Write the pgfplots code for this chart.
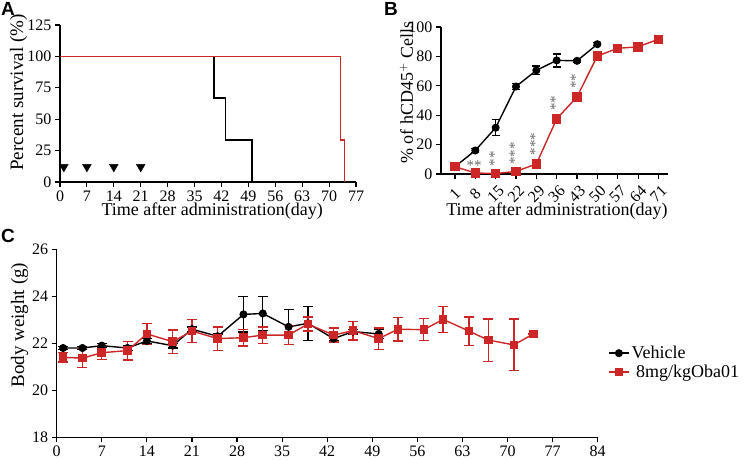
\documentclass[border=0pt]{standalone}
\usepackage{fontspec}
\setmainfont{Liberation Serif}
\newfontfamily\panelfont{Liberation Sans}
\usepackage{pgfplots}
\pgfplotsset{compat=1.18}
\definecolor{mred}{RGB}{205,38,38}
\definecolor{astgray}{RGB}{105,105,105}

\pgfplotsset{
  panel/.style={
    scale only axis,
    axis lines=left,
    axis line style={-, line width=1.1pt},
    tick style={line width=1.1pt, black},
    tick align=outside,
    major tick length=5pt,
    tick label style={font=\fontsize{16}{16}\selectfont},
    xlabel style={font=\fontsize{18}{18}\selectfont, anchor=center},
    ylabel style={font=\fontsize{19}{19}\selectfont, anchor=center},
    /pgf/number format/assume math mode=true,
    clip=false,
  },
  blk/.style={black, line width=1.4pt, mark=*, mark size=3.3pt},
  rds/.style={mred, line width=1.4pt, mark=square*, mark size=3.6pt},
}

\begin{document}
\begin{tikzpicture}
\path[use as bounding box] (0pt,0pt) rectangle (744pt,-460pt);

\node[anchor=north west, inner sep=0pt, font=\panelfont\bfseries\fontsize{19}{19}\selectfont] at (1pt,-2pt) {A};
\node[anchor=north west, inner sep=0pt, font=\panelfont\bfseries\fontsize{19}{19}\selectfont] at (384pt,-2pt) {B};
\node[anchor=north west, inner sep=0pt, font=\panelfont\bfseries\fontsize{19}{19}\selectfont] at (1pt,-229pt) {C};

% A: survival
\begin{axis}[panel, at={(60pt,-182pt)}, anchor=south west,
  width=296pt, height=157pt,
  xmin=0, xmax=77, ymin=0, ymax=125,
  xtick={0,7,...,77}, ytick={0,25,...,125},
  xlabel={Time after administration(day)},
  ylabel={Percent survival (\%)},
  xlabel style={at={(axis description cs:0.514,-0.185)}},
  ylabel style={at={(axis description cs:-0.140,0.57)}},
]
\addplot[black, line width=1.6pt, const plot] coordinates {(0,100)(40,66.7)(43,33.3)(50,0)};
\addplot[mred, line width=1.6pt, const plot] coordinates {(0,100)(73,33.3)(74,0)};
\addplot[only marks, mark=triangle*, mark size=5pt, mark options={rotate=180, fill=black}]
  coordinates {(1,12)(7,12)(14,12)(21,12)};
\end{axis}

% B: hCD45+ cells
\begin{axis}[panel, at={(441pt,-174pt)}, anchor=south west,
  width=227pt, height=147pt,
  xmin=-3.8, xmax=74.3, ymin=0, ymax=100,
  xtick={1,8,...,71}, ytick={0,20,...,100},
  xticklabel style={anchor=center, yshift=-15pt, rotate=45},
  xlabel={Time after administration(day)},
  ylabel={\% of hCD45$^{+}$ Cells},
  xlabel style={at={(axis description cs:0.511,-0.252)}},
  ylabel style={font=\fontsize{18}{18}\selectfont, at={(axis description cs:-0.152,0.555)}},
  error bars/error bar style={line width=1.4pt},
  error bars/error mark options={rotate=90, line width=1.4pt, mark size=4pt},
]
\addplot[blk, error bars/.cd, y dir=both, y explicit] coordinates {
  (1,5) +- (0,1)
  (8,16) +- (0,1.5)
  (15,31.5) +- (0,5.5)
  (22,59.5) +- (0,2)
  (29,70.5) +- (0,3)
  (36,77.3) +- (0,4.4)
  (43,77) +- (0,1)
  (50,88.3) +- (0,1)
};
\addplot[rds, mark size=4pt, error bars/.cd, y dir=both, y explicit] coordinates {
  (1,5) +- (0,0.5)
  (8,0.7) +- (0,0.3)
  (15,0.3) +- (0,0.2)
  (22,1.8) +- (0,0.3)
  (29,6.8) +- (0,0.8)
  (36,37.5) +- (0,2)
  (43,52.5) +- (0,2.5)
  (50,80.3) +- (0,1)
  (57,85.5) +- (0,1)
  (64,86.5) +- (0,1)
  (71,91.7) +- (0,1)
};
\node[astgray, font=\fontsize{15}{15}\selectfont] at (axis cs:7.6,5.5) {**};
\node[astgray, font=\fontsize{15}{15}\selectfont, rotate=90] at (axis cs:14.5,10.5) {**};
\node[astgray, font=\fontsize{15}{15}\selectfont, rotate=90] at (axis cs:21.5,14) {***};
\node[astgray, font=\fontsize{15}{15}\selectfont, rotate=90] at (axis cs:28.5,20.5) {***};
\node[astgray, font=\fontsize{15}{15}\selectfont, rotate=90] at (axis cs:35.5,48) {**};
\node[astgray, font=\fontsize{15}{15}\selectfont, rotate=90] at (axis cs:42.5,63) {**};
\end{axis}

% C: body weight
\begin{axis}[panel, at={(56.7pt,-437.3pt)}, anchor=south west,
  width=541pt, height=188pt,
  xmin=0, xmax=84, ymin=18, ymax=26,
  xtick={0,7,...,84}, ytick={18,20,...,26},
  ylabel={Body weight (g)},
  ylabel style={at={(axis description cs:-0.0688,0.597)}},
  error bars/error bar style={line width=1.3pt},
  error bars/error mark options={rotate=90, line width=1.3pt, mark size=5pt},
  legend image code/.code={\draw[mark repeat=2, mark phase=2, #1] plot coordinates {(0pt,0pt)(10pt,0pt)(20pt,0pt)};},
  legend style={at={(1.0135,0.397)}, anchor=west, draw=none, fill=none,
    font=\fontsize{18}{18}\selectfont, row sep=1pt},
  legend cell align=left,
]
\addplot[blk, error bars/.cd, y dir=both, y explicit] coordinates {
  (1,21.8) +- (0,0.05)
  (4,21.8) +- (0,0.05)
  (7,21.9) +- (0,0.08)
  (11,21.8) +- (0,0.1)
  (14,22.1) +- (0,0.1)
  (18,21.9) +- (0,0.1)
  (21,22.6) +- (0,0.1)
  (25,22.3) +- (0,0.1)
  (29,23.23) +- (0,0.75)
  (32,23.27) +- (0,0.73)
  (36,22.7) +- (0,0.75)
  (39,22.85) +- (0,0.72)
  (43,22.2) +- (0,0.1)
  (46,22.5) +- (0,0.1)
  (50,22.4) +- (0,0.2)
};
\addlegendentry{Vehicle}
\addplot[rds, error bars/.cd, y dir=both, y explicit] coordinates {
  (1,21.4) +- (0,0.2)
  (4,21.37) +- (0,0.4)
  (7,21.6) +- (0,0.3)
  (11,21.69) +- (0,0.4)
  (14,22.4) +- (0,0.45)
  (18,22.07) +- (0,0.5)
  (21,22.52) +- (0,0.5)
  (25,22.2) +- (0,0.5)
  (29,22.24) +- (0,0.35)
  (32,22.35) +- (0,0.35)
  (36,22.35) +- (0,0.4)
  (39,22.82) +- (0,0.3)
  (43,22.35) +- (0,0.3)
  (46,22.54) +- (0,0.4)
  (50,22.2) +- (0,0.45)
  (53,22.6) +- (0,0.5)
  (57,22.58) +- (0,0.47)
  (60,23.02) +- (0,0.55)
  (64,22.52) +- (0,0.6)
  (67,22.14) +- (0,0.9)
  (71,21.93) +- (0,1.1)
  (74,22.4) +- (0,0)
};
\addlegendentry{\ 8mg/kgOba01}
\end{axis}
\end{tikzpicture}
\end{document}
